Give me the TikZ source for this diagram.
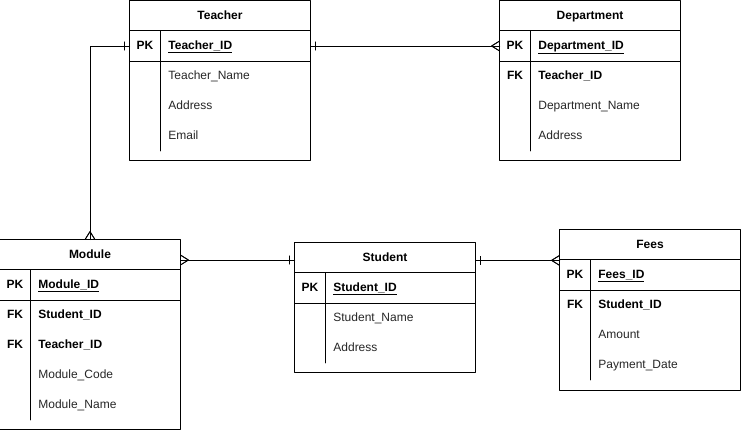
\documentclass[tikz,border=0pt]{standalone}
\usepackage{fontspec}
\setmainfont{Liberation Sans}
\usetikzlibrary{positioning}
\usetikzlibrary{decorations.markings}

\tikzset{
  txt/.style={inner sep=0pt,text height=9pt,text depth=3pt},
  title/.style={txt,minimum width=180pt,minimum height=30pt,font=\bfseries},
  pkrow/.style={minimum width=180pt,minimum height=30pt,inner sep=0pt},
  tag/.style={txt,font=\bfseries},
  field/.style={txt,anchor=west,text=black!85},
  keyfield/.style={txt,anchor=west,font=\bfseries},
  one start/.style={postaction={decorate},decoration={markings,
    mark=at position 5pt with {\draw (0,-4pt) -- (0,4pt);}}},
  one end/.style={postaction={decorate},decoration={markings,
    mark=at position -5pt with {\draw (0,-4pt) -- (0,4pt);}}},
  many start/.style={postaction={decorate},decoration={markings,
    mark=at position 8pt with {\draw (-8pt,5pt) -- (0,0) -- (-8pt,-5pt);}}},
  many end/.style={postaction={decorate},decoration={markings,
    mark=at position -8pt with {\draw (8pt,5pt) -- (0,0) -- (8pt,-5pt);}}},
}

\begin{document}
\fontsize{12}{14}\selectfont
\begin{tikzpicture}[line cap=round,line join=round,line width=0.8pt,x=1pt,y=-1pt]
\useasboundingbox (0,0) rectangle (741,431);

% Teacher
\node[title] (teacher) at (220,16) {Teacher};
\node[pkrow] (teacherpk) at (220,46) {};
\draw (teacher.north west) rectangle (310,160);
\draw (teacherpk.north west) -- (teacherpk.north east) (teacherpk.south west) -- (teacherpk.south east);
\draw (160,31) -- (160,151);
\node[tag] at (145,46) {PK};
\node[keyfield] at (168,46) {\underline{Teacher\_ID}};
\foreach \txt [count=\i] in {Teacher\_Name,Address,Email}
  \node[field] at (168,{46+30*\i}) {\txt};

% Department
\node[title] (dept) at (590,16) {Department};
\node[pkrow] (deptpk) at (590,46) {};
\draw (dept.north west) rectangle (680,160);
\draw (deptpk.north west) -- (deptpk.north east) (deptpk.south west) -- (deptpk.south east);
\draw (530,31) -- (530,151);
\node[tag] at (515,46) {PK};
\node[keyfield] at (538,46) {\underline{Department\_ID}};
\node[tag] at (515,76) {FK};
\node[keyfield] at (538,76) {Teacher\_ID};
\foreach \txt [count=\i] in {Department\_Name,Address}
  \node[field] at (538,{76+30*\i}) {\txt};

% Module
\node[title] (module) at (90,255) {Module};
\node[pkrow] (modulepk) at (90,285) {};
\draw (module.north west) rectangle (180,429);
\draw (modulepk.north west) -- (modulepk.north east) (modulepk.south west) -- (modulepk.south east);
\draw (30,270) -- (30,420);
\node[tag] at (15,285) {PK};
\node[keyfield] at (38,285) {\underline{Module\_ID}};
\node[tag] at (15,315) {FK};
\node[keyfield] at (38,315) {Student\_ID};
\node[tag] at (15,345) {FK};
\node[keyfield] at (38,345) {Teacher\_ID};
\foreach \txt [count=\i] in {Module\_Code,Module\_Name}
  \node[field] at (38,{345+30*\i}) {\txt};

% Student
\node[title] (student) at (385,258) {Student};
\node[pkrow] (studentpk) at (385,288) {};
\draw (student.north west) rectangle (475,372);
\draw (studentpk.north west) -- (studentpk.north east) (studentpk.south west) -- (studentpk.south east);
\draw (325,273) -- (325,363);
\node[tag] at (310,288) {PK};
\node[keyfield] at (333,288) {\underline{Student\_ID}};
\foreach \txt [count=\i] in {Student\_Name,Address}
  \node[field] at (333,{288+30*\i}) {\txt};

% Fees
\node[title] (fees) at (650,245) {Fees};
\node[pkrow] (feespk) at (650,275) {};
\draw (fees.north west) rectangle (740,390);
\draw (feespk.north west) -- (feespk.north east) (feespk.south west) -- (feespk.south east);
\draw (590,260) -- (590,380);
\node[tag] at (575,275) {PK};
\node[keyfield] at (598,275) {\underline{Fees\_ID}};
\node[tag] at (575,305) {FK};
\node[keyfield] at (598,305) {Student\_ID};
\foreach \txt [count=\i] in {Amount,Payment\_Date}
  \node[field] at (598,{305+30*\i}) {\txt};

% relations
\draw[one start,many end] (teacherpk.west) -| (module.north);
\draw[one start,many end] (teacherpk.east) -- (deptpk.west);
\draw[many start,one end] ([yshift=-5pt]module.east) -- ([yshift=-2pt]student.west);
\draw[one start,many end] (student.east |- fees.south west) -- (fees.south west);
\end{tikzpicture}
\end{document}
